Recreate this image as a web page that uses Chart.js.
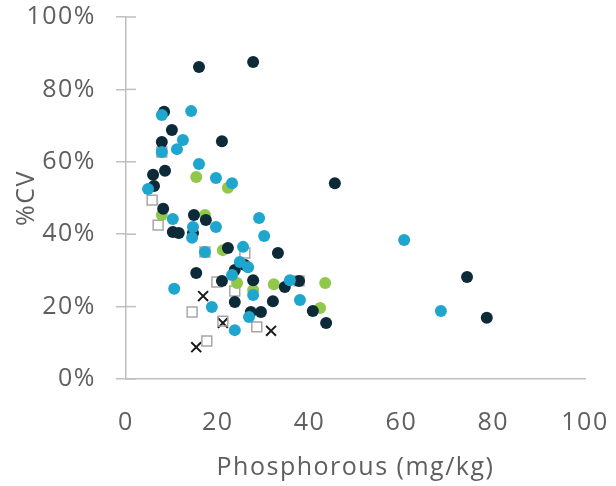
<!DOCTYPE html>
<html>
<head>
<meta charset="utf-8">
<script src="https://cdn.jsdelivr.net/npm/chart.js@4"></script>
<style>
  html, body { margin: 0; padding: 0; background: #fff; }
  #wrap { width: 616px; height: 486px; }
</style>
</head>
<body>
<div id="wrap"><canvas id="cvChart" width="616" height="486"></canvas></div>
<script>
// values: x = phosphorous (mg/kg), y = %CV
const darkX = [15.9, 27.7, 20.9, 10.0, 8.3, 7.8, 5.9, 8.5, 6.1, 45.5, 74.3, 78.6, 14.8, 17.4, 8.1, 10.2, 11.5, 14.6,
  22.2, 33.1, 25.9, 23.7, 15.3, 20.9, 27.7, 34.6, 37.7, 32.0, 23.7, 27.2, 29.4, 40.7, 43.6];
const darkY = [86.2, 87.6, 65.7, 68.8, 73.8, 65.5, 56.4, 57.5, 53.3, 54.1, 28.2, 16.9, 45.3, 43.9, 47.0, 40.6, 40.3, 40.3,
  36.2, 34.8, 31.5, 30.1, 29.3, 27.1, 27.3, 25.4, 27.1, 21.5, 21.3, 18.5, 18.5, 18.8, 15.5];

const cyanX = [14.2, 7.8, 12.4, 11.1, 15.9, 19.6, 23.1, 4.8, 29.0, 30.1, 10.2, 14.6, 19.6, 14.4, 25.5, 24.8, 26.6,
  23.1, 27.7, 35.7, 37.9, 10.5, 18.7, 26.8, 23.7, 60.6, 68.6, 7.8, 17.2];
const cyanY = [74.0, 72.9, 66.0, 63.5, 59.4, 55.5, 54.1, 52.5, 44.5, 39.5, 44.2, 42.0, 42.0, 39.0, 36.5, 32.3, 30.9,
  28.7, 23.2, 27.3, 21.8, 24.9, 19.9, 17.1, 13.5, 38.4, 18.8, 62.7, 35.1];

const greenX = [15.3, 22.2, 17.2, 7.8, 21.1, 24.2, 27.7, 32.2, 43.4, 42.3];
const greenY = [55.8, 52.8, 45.3, 45.3, 35.6, 26.5, 24.6, 26.2, 26.5, 19.6];

const squareX = [7.8, 5.7, 7.0, 17.2, 25.9, 19.8, 23.7, 37.7, 14.4, 21.1, 28.5, 17.6];
const squareY = [62.7, 49.4, 42.5, 35.1, 34.8, 26.8, 24.3, 27.1, 18.5, 16.0, 14.4, 10.5];

const crossX = [16.8, 21.1, 31.6, 15.3];
const crossY = [22.9, 15.5, 13.3, 8.8];

const xTicks = [0, 20, 40, 60, 80, 100];
const yTicks = [0, 20, 40, 60, 80, 100];

const FONT = '"Open Sans", "DejaVu Sans", sans-serif';
const TEXT = '#5f5f5f';
const AXIS = '#bfbfbf';

function pts(xs, ys) {
  return xs.map((x, i) => ({ x: x, y: ys[i] }));
}

// the reference text is set a little wider than Open Sans
const spacing = {
  id: 'spacing',
  beforeLayout(chart) { chart.ctx.letterSpacing = '1.5px'; },
  beforeDraw(chart) { chart.ctx.letterSpacing = '1.5px'; }
};

// tick marks that cross the y axis (Excel style), inner half
const innerTicks = {
  id: 'innerTicks',
  afterDatasetsDraw(chart) {
    const y = chart.scales.y;
    const ctx = chart.ctx;
    ctx.save();
    ctx.strokeStyle = AXIS;
    ctx.lineWidth = 1.5;
    yTicks.forEach(v => {
      const py = y.getPixelForValue(v);
      ctx.beginPath();
      ctx.moveTo(y.right, py);
      ctx.lineTo(y.right + 10, py);
      ctx.stroke();
    });
    ctx.restore();
  }
};

new Chart(document.getElementById('cvChart'), {
  type: 'scatter',
  data: {
    datasets: [
      { label: 'cyan', data: pts(cyanX, cyanY), backgroundColor: '#1fa6cf', pointRadius: 6, borderWidth: 0, pointBorderWidth: 0 },
      { label: 'dark', data: pts(darkX, darkY), backgroundColor: '#0c2a38', pointRadius: 6, borderWidth: 0, pointBorderWidth: 0 },
      { label: 'green', data: pts(greenX, greenY), backgroundColor: '#92c84a', pointRadius: 6, borderWidth: 0, pointBorderWidth: 0 },
      { label: 'square', data: pts(squareX, squareY), pointStyle: 'rect', backgroundColor: 'rgba(0,0,0,0)',
        borderColor: '#a6a6a6', pointRadius: 7, pointBorderWidth: 1.5 },
      { label: 'cross', data: pts(crossX, crossY), pointStyle: 'crossRot', borderColor: '#1a1a1a',
        pointRadius: 7, pointBorderWidth: 2 }
    ]
  },
  options: {
    responsive: false,
    animation: false,
    layout: { padding: { top: 17, right: 31, left: 0, bottom: 0 } },
    plugins: {
      legend: { display: false },
      tooltip: { enabled: false }
    },
    scales: {
      x: {
        type: 'linear',
        min: 0,
        max: 100,
        afterBuildTicks: s => { s.ticks = xTicks.map(v => ({ value: v })); },
        afterFit: s => { s.height = 107; s.paddingLeft = 0; s.paddingRight = 0; },
        grid: { display: true, drawOnChartArea: false, drawTicks: false },
        border: { color: AXIS, width: 1.5 },
        ticks: { color: TEXT, font: { family: FONT, size: 25 }, padding: 29, maxRotation: 0 },
        title: { display: true, text: 'Phosphorous (mg/kg)', color: TEXT, font: { family: FONT, size: 25 },
          padding: { top: 0, bottom: 3 } }
      },
      y: {
        type: 'linear',
        min: 0,
        max: 100,
        afterBuildTicks: s => { s.ticks = yTicks.map(v => ({ value: v })); },
        afterFit: s => { s.width = 126; s.paddingTop = 0; s.paddingBottom = 0; },
        grid: { display: true, drawOnChartArea: false, drawTicks: true, tickLength: 10, color: AXIS, lineWidth: 1.5 },
        border: { color: AXIS, width: 1.5 },
        ticks: { color: TEXT, font: { family: FONT, size: 25 }, padding: 20, callback: v => v + '%' },
        title: { display: true, text: '%CV', color: TEXT, font: { family: FONT, size: 25 },
          padding: { top: 12, bottom: 0 } }
      }
    }
  },
  plugins: [spacing, innerTicks]
});
</script>
</body>
</html>
